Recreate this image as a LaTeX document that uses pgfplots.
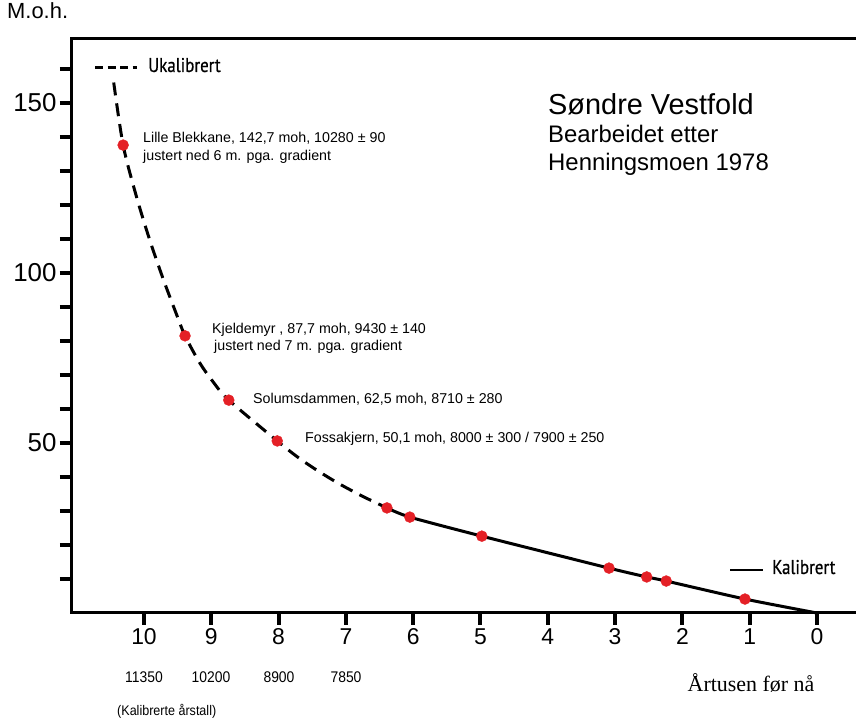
\documentclass[border=0pt]{standalone}
\usepackage{pgfplots}
\pgfplotsset{compat=1.18}
\usepackage{fontspec}
\setmainfont{Liberation Sans}
\newfontfamily\condfont[FakeStretch=0.85,FakeBold=0.6]{PT Sans}
\newfontfamily\narrowfont[FakeStretch=0.9]{Liberation Sans}
\newfontfamily\seriffont{Liberation Serif}
\definecolor{dotred}{RGB}{228,32,38}
\newcommand{\fs}[1]{\fontsize{#1}{#1}\selectfont}
\begin{document}
\begin{tikzpicture}[x=1bp,y=1bp]
\useasboundingbox (0,0) rectangle (856,718);
\clip (0,0) rectangle (856,718);
\begin{axis}[
  at={(72bp,105bp)}, anchor=south west,
  scale only axis, width=798bp, height=574bp,
  x dir=reverse,
  xmin=-0.788, xmax=11.07, ymin=0, ymax=168.8,
  axis line style={line width=3bp},
  tick align=outside, xtick pos=bottom, ytick pos=left,
  xtick={0,...,10}, ytick={50,100,150}, minor ytick={10,20,...,160},
  major tick length=12bp, minor tick length=12bp,
  tick style={black, line width=4pt},
  xticklabel style={font=\fs{23}},
  yticklabel style={font=\fs{26}},
  /pgf/number format/assume math mode=true,
  clip=false,
]
\addplot[black, line width=3bp, dash pattern=on 13bp off 8bp, smooth, tension=0.5] coordinates {
 (10.45,156) (10.31,137.6) (10.12,123) (9.92,110) (9.72,98.5) (9.53,88.5)
 (9.39,81.5) (9.17,73.5) (8.97,67.9) (8.74,62.6) (8.02,50.6) (7.7,45.6)
 (7.4,41.6) (7.1,38.0) (6.75,34.3) (6.39,30.9)};
\addplot[black, line width=3bp, smooth, tension=0.4] coordinates {
 (6.39,30.9) (6.05,28.2) (4.98,22.6) (3.09,13.2) (2.53,10.6) (2.24,9.4) (1.07,4.1) (0,0)};
\addplot[only marks, mark=*, mark size=5.5pt, mark options={fill=dotred, draw=dotred}] coordinates {
 (10.31,137.6) (9.39,81.5) (8.74,62.6) (8.02,50.6) (6.39,30.9) (6.05,28.2)
 (4.98,22.6) (3.09,13.2) (2.53,10.6) (2.24,9.4) (1.07,4.1)};
\end{axis}
\node[anchor=west, inner sep=0, font=\fs{22}] at (7,707) {M.o.h.};
\draw[line width=3bp, dash pattern=on 8bp off 4.5bp] (95,650) -- (137,650);
\node[anchor=base west, inner sep=0, font=\condfont\fs{20}] at (148,646) {Ukalibrert};
\draw[line width=2bp] (730,148) -- (763,148);
\node[anchor=base west, inner sep=0, font=\condfont\fs{20}] at (772,144) {Kalibrert};
\node[anchor=base west, inner sep=0, font=\fs{29}] at (548,603) {Søndre Vestfold};
\node[anchor=base west, inner sep=0, font=\fs{24}] at (548,575) {Bearbeidet etter};
\node[anchor=base west, inner sep=0, font=\fs{24}] at (548,547) {Henningsmoen 1978};
\node[anchor=base west, inner sep=0, font=\fs{14.3}] at (143,575) {Lille Blekkane, 142,7 moh, 10280 ± 90};
\node[anchor=base west, inner sep=0, font=\fs{14.3}] at (143,557) {justert ned 6 m. pga. gradient};
\node[anchor=base west, inner sep=0, font=\fs{14.3}] at (212,384) {Kjeldemyr , 87,7 moh, 9430 ± 140};
\node[anchor=base west, inner sep=0, font=\fs{14.3}] at (214,367) {justert ned 7 m. pga. gradient};
\node[anchor=base west, inner sep=0, font=\fs{14.3}] at (253,314) {Solumsdammen, 62,5 moh, 8710 ± 280};
\node[anchor=base west, inner sep=0, font=\fs{14.3}] at (305,275) {Fossakjern, 50,1 moh, 8000 ± 300 / 7900 ± 250};
\node[font=\narrowfont\fs{15.5}] at (144,41) {11350};
\node[font=\narrowfont\fs{15.5}] at (211,41) {10200};
\node[font=\narrowfont\fs{15.5}] at (279,41) {8900};
\node[font=\narrowfont\fs{15.5}] at (346,41) {7850};
\node[anchor=west, inner sep=0, font=\narrowfont\fs{14}] at (117,7) {(Kalibrerte årstall)};
\node[font=\seriffont\fs{22}] at (751,35) {Årtusen før nå};
\end{tikzpicture}
\end{document}
